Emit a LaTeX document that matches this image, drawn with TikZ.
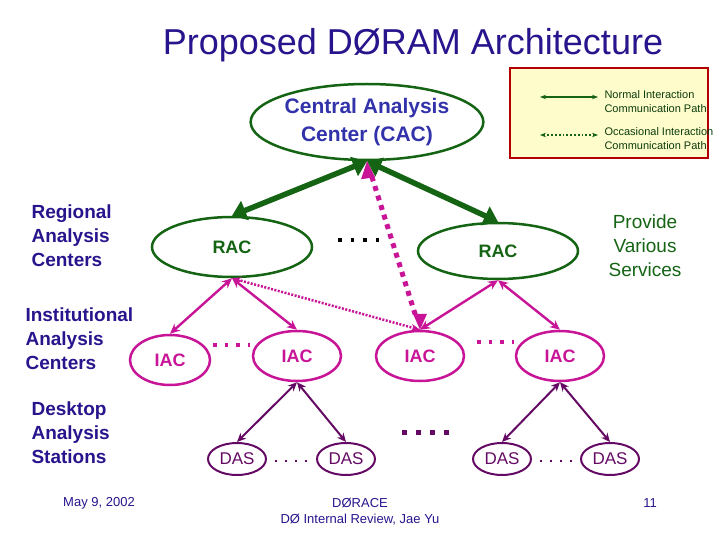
\documentclass[tikz,border=0pt]{standalone}
\usepackage{fontspec}
\setmainfont{Liberation Sans}
\usetikzlibrary{arrows.meta,shapes.geometric}
\definecolor{dg}{RGB}{20,100,20}
\definecolor{mg}{RGB}{200,20,150}
\definecolor{dp}{RGB}{100,10,100}
\definecolor{tb}{RGB}{40,20,140}
\definecolor{lb}{RGB}{50,50,170}
\begin{document}
\begin{tikzpicture}[x=1pt,y=-1pt,
  ell/.style={draw,ellipse,line width=2.5pt,inner sep=0pt,font=\bfseries\fontsize{18}{18}\selectfont},
  rac/.style={ell,dg,text=dg,minimum width=160pt,minimum height=60pt},
  iac/.style={ell,mg,text=mg,minimum width=88pt,minimum height=50pt},
  das/.style={ell,dp,text=dp,line width=2pt,minimum width=58pt,minimum height=32pt,font=\fontsize{17}{17}\selectfont},
  lab/.style={tb,font=\bfseries\fontsize{19}{24}\selectfont,align=left,anchor=north west},
  garr/.style={dg,line width=5.5pt,{Triangle[length=14pt,width=20pt]}-{Triangle[length=14pt,width=20pt]}},
  marr/.style={mg,line width=2.4pt,{Stealth[length=10pt,width=9pt]}-{Stealth[length=10pt,width=9pt]}},
  parr/.style={dp,line width=2pt,{Stealth[length=9pt,width=8pt]}-{Stealth[length=9pt,width=8pt]}},
  sq/.style={line width=3pt,dash pattern=on 3pt off 4pt}]
\useasboundingbox (0,0) rectangle (720,540);
\node[font=\fontsize{36}{36}\selectfont,text=tb] (title) at (413,45) {Proposed DØRAM Architecture};
% legend
\node[draw=red!70!black,line width=2.5pt,fill=yellow!20,minimum width=198pt,minimum height=90pt,inner sep=0pt] (leg) at (609,113) {};
\coordinate (l1a) at (540,97); \coordinate (l1b) at (598,97);
\coordinate (l2a) at (540,135); \coordinate (l2b) at (598,135);
\draw[dg,line width=1.8pt,{Stealth[length=6pt]}-{Stealth[length=6pt]}] (l1a) -- (l1b);
\draw[dg,line width=1.8pt,dotted,{Stealth[length=6pt]}-{Stealth[length=6pt]}] (l2a) -- (l2b);
\node[anchor=west,align=left,font=\fontsize{11}{14}\selectfont,text=dg!60!black] (lt1) at (601,102) {Normal Interaction\\Communication Path};
\node[anchor=west,align=left,font=\fontsize{11}{14}\selectfont,text=dg!60!black] (lt2) at (601,139) {Occasional Interaction\\Communication Path};
% nodes
\node[ell,dg,text=lb,minimum width=202pt,minimum height=76pt,align=center,font=\bfseries\fontsize{21}{28}\selectfont] (cac) at (367,122) {Central Analysis\\Center (CAC)};
\node[rac] (r1) at (232,247) {RAC};
\node[rac,minimum height=56pt] (r2) at (498,251) {RAC};
\node[iac,minimum width=80pt] (i1) at (170,360) {IAC};
\node[iac] (i2) at (297,356) {IAC};
\node[iac] (i3) at (420,356) {IAC};
\node[iac] (i4) at (560,356) {IAC};
\node[das] (d1) at (237,459) {DAS};
\node[das] (d2) at (346,459) {DAS};
\node[das] (d3) at (502,459) {DAS};
\node[das] (d4) at (610,459) {DAS};
% dots
\coordinate (a1) at (338,240); \coordinate (a2) at (384,240);
\draw[sq,black,line width=3.5pt,dash pattern=on 3.5pt off 9pt] (a1) -- (a2);
\coordinate (b1) at (213,345); \coordinate (b2) at (250,345);
\draw[mg,line width=3.5pt,dash pattern=on 3.5pt off 8pt] (b1) -- (b2);
\coordinate (c1) at (477,342); \coordinate (c2) at (514,342);
\draw[mg,line width=3.5pt,dash pattern=on 3.5pt off 8pt] (c1) -- (c2);
\coordinate (e1) at (275,461); \coordinate (e2) at (310,461);
\draw[dp,line width=2pt,dash pattern=on 2pt off 8pt] (e1) -- (e2);
\coordinate (f1c) at (540,461); \coordinate (f2c) at (575,461);
\draw[dp,line width=2pt,dash pattern=on 2pt off 8pt] (f1c) -- (f2c);
\coordinate (g1) at (402,432); \coordinate (g2) at (455,432);
\draw[dp,line width=5pt,dash pattern=on 5pt off 9pt] (g1) -- (g2);
% edges
\draw[garr] (cac.south) -- (r1.north);
\draw[garr] (cac.south) -- (r2.north);
\draw[mg,line width=5pt,dash pattern=on 5pt off 5pt,shorten <=16pt,shorten >=16pt] (cac.south) -- (i3.north);
\fill[mg] (cac.south) -- ++(-6,18) -- ++(14,-2) -- cycle;
\fill[mg] (i3.north) -- ++(-7,-16) -- ++(14,0) -- cycle;
\draw[mg,line width=2.5pt,dash pattern=on 2pt off 1.5pt,{Stealth[length=9pt]}-{Stealth[length=9pt]}] (r1.south) -- (i3.north);
\draw[marr] (r1.south) -- (i1.north);
\draw[marr] (r1.south) -- (i2.north);
\draw[marr] (r2.south) -- (i3.north);
\draw[marr] (r2.south) -- (i4.north);
\draw[parr] (i2.south) -- (d1.north);
\draw[parr] (i2.south) -- (d2.north);
\draw[parr] (i4.south) -- (d3.north);
\draw[parr] (i4.south) -- (d4.north);
% labels
\node[lab] (la1) at (28,201) {Regional\\Analysis\\Centers};
\node[lab] (la2) at (22,304) {Institutional\\Analysis\\Centers};
\node[lab] (la3) at (28,398) {Desktop\\Analysis\\Stations};
\node[font=\fontsize{19}{24}\selectfont,dg,align=center] (pv) at (645,246) {Provide\\Various\\Services};
\node[font=\fontsize{13}{13}\selectfont,tb] (f1) at (99,503) {May 9, 2002};
\node[font=\fontsize{13}{16}\selectfont,tb,align=center] (f2) at (360,512) {DØRACE\\DØ Internal Review, Jae Yu};
\node[font=\fontsize{13}{13}\selectfont,tb] (f3) at (650,503) {11};
\end{tikzpicture}
\end{document}
